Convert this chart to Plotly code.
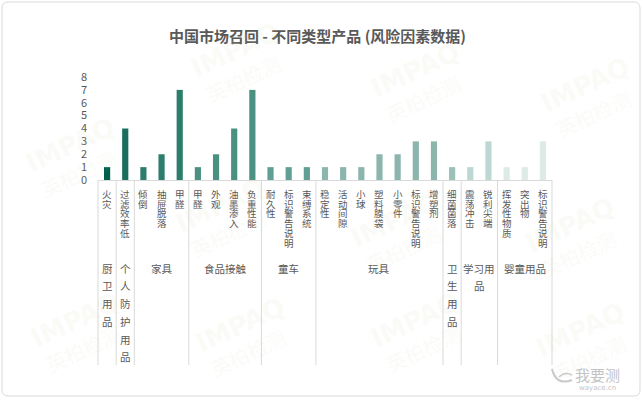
import plotly.graph_objects as go

# ---------------- data ----------------
groups = ["厨卫用品", "个人防护用品", "家具", "食品接触", "童车", "玩具", "卫生用品", "学习用品", "婴童用品"]
group_sizes = [1, 1, 3, 4, 3, 7, 1, 2, 3]
items = ["火灾", "过滤效率低",
         "倾倒", "抽屉脱落", "甲醛",
         "甲醛", "外观", "油墨渗入", "负重性能",
         "耐久性", "标识警告说明", "束缚系统",
         "稳定性", "活动间隙", "小球", "塑料膜袋", "小零件", "标识警告说明", "增塑剂",
         "细菌菌落",
         "震荡冲击", "锐利尖端",
         "挥发性物质", "突出物", "标识警告说明"]
values = [1, 4,
          1, 2, 7,
          1, 2, 4, 7,
          1, 1, 1,
          1, 1, 1, 2, 2, 3, 3,
          1,
          1, 3,
          1, 1, 3]
y_ticks = [0, 1, 2, 3, 4, 5, 6, 7, 8]
title = "中国市场召回 - 不同类型产品 (风险因素数据)"

# ---------------- style ----------------
group_colors = ["#005F4B", "#1A6E5E", "#2D7D6D", "#4B9182", "#619E93",
                "#8CB6AD", "#9AC0B8", "#BDD7D2", "#DDEAE7"]
TXT = "#595959"
LINE = "#D9D9D9"
FONT = "Noto Sans CJK SC"
W, H = 643, 400
ML, MR, MT, MB = 98, 91, 77, 220
PW, PH = W - ML - MR, H - MT - MB
N = len(items)

def xp(px):
    return (px - ML) / PW

def yp(py):
    return (H - MB - py) / PH

bar_colors = []
for g, s in enumerate(group_sizes):
    bar_colors += [group_colors[g]] * s

xs = list(range(N))

fig = go.Figure(go.Bar(x=xs, y=values, marker=dict(color=bar_colors, line=dict(width=0)),
                       width=0.34, hoverinfo="skip"))

annotations = []
shapes = []

# faint watermarks (drawn first so texts sit on top)
wm_pos = [(235, 50), (415, 70), (585, 85), (70, 145), (220, 205), (395, 220), (570, 225),
          (75, 320), (240, 325), (415, 320), (580, 330)]
for (wx, wy) in wm_pos:
    annotations.append(dict(x=xp(wx), y=yp(wy), xref="paper", yref="paper", text="<b>IMPAQ</b>",
                            showarrow=False, textangle=-25, xanchor="center", yanchor="middle",
                            font=dict(family="DejaVu Sans", size=26, color="rgba(215,215,190,0.12)")))
    annotations.append(dict(x=xp(wx + 8), y=yp(wy + 28), xref="paper", yref="paper", text="英柏检测",
                            showarrow=False, textangle=-25, xanchor="center", yanchor="middle",
                            font=dict(family=FONT, size=20, color="rgba(215,215,190,0.12)")))

# leaf labels, vertical one char per line
for i, name in enumerate(items):
    for k, ch in enumerate(name):
        annotations.append(dict(x=i, xref="x", y=yp(194 + 9.7 * k), yref="paper",
                                text=ch, showarrow=False, xanchor="center", yanchor="middle",
                                font=dict(family=FONT, size=9.5, color=TXT)))

# group labels with wrapping similar to narrow columns
start = 0
bounds = [-0.5]
for g, s in enumerate(group_sizes):
    center = start + (s - 1) / 2
    maxc = max(1, int(s * PW / N * 0.9 / 10.5))
    name = groups[g]
    lines = [name[j:j + maxc] for j in range(0, len(name), maxc)]
    for k, ln in enumerate(lines):
        annotations.append(dict(x=center, xref="x", y=yp(268 + 17.8 * k), yref="paper",
                                text=ln, showarrow=False, xanchor="center", yanchor="middle",
                                font=dict(family=FONT, size=10.5, color=TXT)))
    start += s
    bounds.append(start - 0.5)

for b in bounds:
    bx = (b + 0.5) / N
    shapes.append(dict(type="line", xref="paper", yref="paper", x0=bx, x1=bx,
                       y0=yp(180), y1=yp(365), line=dict(color=LINE, width=1)))

# outer rounded border
r = 6
x0, x1, y0, y1 = 2, 640, 2, 396
path = (f"M {xp(x0+r)},{yp(y0)} L {xp(x1-r)},{yp(y0)} Q {xp(x1)},{yp(y0)} {xp(x1)},{yp(y0+r)} "
        f"L {xp(x1)},{yp(y1-r)} Q {xp(x1)},{yp(y1)} {xp(x1-r)},{yp(y1)} "
        f"L {xp(x0+r)},{yp(y1)} Q {xp(x0)},{yp(y1)} {xp(x0)},{yp(y1-r)} "
        f"L {xp(x0)},{yp(y0+r)} Q {xp(x0)},{yp(y0)} {xp(x0+r)},{yp(y0)} Z")
shapes.append(dict(type="path", xref="paper", yref="paper", path=path,
                   line=dict(color="#D9D9D9", width=1)))

# logo bottom-right
annotations.append(dict(x=xp(597), y=yp(374), xref="paper", yref="paper", text="我要测",
                        showarrow=False, xanchor="center", yanchor="middle",
                        font=dict(family=FONT, size=15, color="#C4C4C4")))
annotations.append(dict(x=xp(597), y=yp(388), xref="paper", yref="paper", text="wayace.cn",
                        showarrow=False, xanchor="center", yanchor="middle",
                        font=dict(family="DejaVu Sans", size=7, color="#C4C4C4")))
shapes.append(dict(type="path", xref="paper", yref="paper",
                   path=f"M {xp(552)},{yp(369)} Q {xp(556)},{yp(386)} {xp(572)},{yp(380)}",
                   line=dict(color="#C8C8C8", width=2)))
shapes.append(dict(type="path", xref="paper", yref="paper",
                   path=f"M {xp(559)},{yp(377)} Q {xp(565)},{yp(371)} {xp(572)},{yp(375)}",
                   line=dict(color="#C8C8C8", width=1.5)))

fig.update_layout(
    width=W, height=H,
    margin=dict(l=ML, r=MR, t=MT, b=MB, autoexpand=False),
    paper_bgcolor="white", plot_bgcolor="white",
    showlegend=False,
    title=dict(text=f"<b>{title}</b>", x=317.5 / W, xref="container", xanchor="center",
               y=1 - 37 / H, yref="container", yanchor="middle",
               font=dict(family=FONT, size=15, color=TXT)),
    xaxis=dict(range=[-0.5, N - 0.5], showticklabels=False, showgrid=False, zeroline=False,
               showline=True, linecolor=LINE, linewidth=1, ticks=""),
    yaxis=dict(range=[0, 8], tickvals=y_ticks, showgrid=False, zeroline=False, showline=False,
               ticks="", ticklabelstandoff=10,
               tickfont=dict(family=FONT, size=11, color=TXT)),
    annotations=annotations,
    shapes=shapes,
)

fig.write_html("out.html")
